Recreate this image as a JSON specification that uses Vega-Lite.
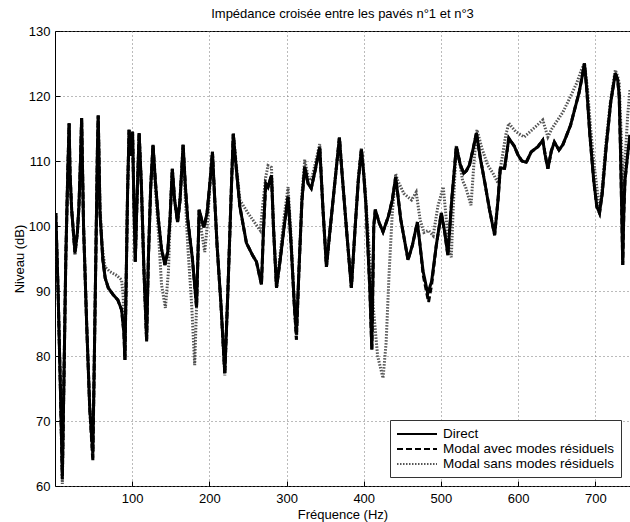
{
  "$schema": "https://vega.github.io/schema/vega-lite/v6.json",
  "width": 575,
  "height": 455,
  "autosize": {"type": "none"},
  "padding": {"left": 55, "top": 31, "right": 0, "bottom": 36},
  "background": "white",
  "title": {"text": "Impédance croisée entre les pavés n°1 et n°3", "frame": "group", "anchor": "middle", "offset": 4, "fontSize": 13, "fontWeight": "normal", "font": "Liberation Sans", "color": "#000"},
  "config": {
    "font": "Liberation Sans",
    "view": {"stroke": "#000", "strokeWidth": 1},
    "axis": {"domain": false, "grid": true, "gridDash": [1, 3], "gridColor": "#777", "gridWidth": 1, "labelFont": "Liberation Sans", "labelFontSize": 13, "labelColor": "#000", "titleFont": "Liberation Sans", "titleFontSize": 13, "titleFontWeight": "normal", "titleColor": "#000", "tickColor": "#000", "tickSize": -5, "labelFlush": false},
    "legend": {"orient": "bottom-right", "offset": 9, "fillColor": "#ffffff", "strokeColor": "#333333", "padding": 6, "rowPadding": 0, "symbolType": "M-1,0H4.714", "symbolSize": 196, "symbolStrokeWidth": 2, "labelOffset": 31, "labelFont": "Liberation Sans", "labelFontSize": 13.5, "labelColor": "#000", "labelLimit": 300}
  },
  "datasets": {
    "direct": [
      {"f":1,"y":102},{"f":4,"y":90},{"f":7,"y":75},{"f":9.5,"y":61.5},{"f":11,"y":72},{"f":14,"y":95},{"f":16.5,"y":108},{"f":18.3,"y":115.8},{"f":19.5,"y":108},{"f":21.6,"y":102.5},{"f":25.9,"y":96},{"f":29,"y":99},{"f":31,"y":103},{"f":33,"y":110},{"f":34.5,"y":116.6},{"f":37,"y":100},{"f":41,"y":85},{"f":45,"y":72},{"f":49,"y":65},{"f":51,"y":80},{"f":53.5,"y":100},{"f":55,"y":112},{"f":56,"y":117},{"f":58.3,"y":102},{"f":62,"y":94.8},{"f":65,"y":92},{"f":69,"y":90.5},{"f":75.5,"y":89.4},{"f":81.5,"y":88.6},{"f":86.3,"y":87.1},{"f":89.3,"y":83.5},{"f":90.6,"y":79.4},{"f":92,"y":90},{"f":94,"y":105},{"f":96,"y":114.8},{"f":98,"y":110.8},{"f":100.5,"y":114.5},{"f":102,"y":105},{"f":104,"y":94.5},{"f":106,"y":103},{"f":109,"y":114.3},{"f":112,"y":106},{"f":115,"y":94},{"f":118.7,"y":82.5},{"f":121,"y":95},{"f":124,"y":106},{"f":127,"y":112.5},{"f":130,"y":107},{"f":134,"y":101},{"f":138,"y":96.5},{"f":142.4,"y":94},{"f":146,"y":96},{"f":149,"y":101},{"f":152,"y":108.8},{"f":155,"y":104},{"f":158.8,"y":100.6},{"f":162,"y":104},{"f":166,"y":112.5},{"f":169,"y":106},{"f":172,"y":101},{"f":178,"y":95},{"f":183.4,"y":87.5},{"f":186.8,"y":102.5},{"f":190,"y":101},{"f":193,"y":99.8},{"f":197,"y":102},{"f":201,"y":107},{"f":204,"y":111.4},{"f":207,"y":104},{"f":210,"y":97},{"f":215,"y":88},{"f":220,"y":77.4},{"f":224,"y":90},{"f":228,"y":104},{"f":231,"y":114.2},{"f":234,"y":110},{"f":239.5,"y":103},{"f":248,"y":97.4},{"f":256,"y":95.5},{"f":261,"y":94.5},{"f":267.5,"y":91},{"f":270,"y":99},{"f":273,"y":106.6},{"f":276,"y":106},{"f":280.5,"y":107.8},{"f":283,"y":100},{"f":287,"y":90.5},{"f":292,"y":95},{"f":297,"y":100},{"f":302,"y":104.5},{"f":306,"y":97},{"f":310,"y":88},{"f":312.8,"y":83.5},{"f":316,"y":93},{"f":320,"y":104},{"f":323.6,"y":109.1},{"f":328,"y":106.5},{"f":332,"y":105.8},{"f":337,"y":108.5},{"f":343,"y":112.1},{"f":347,"y":103},{"f":351.7,"y":93.7},{"f":356,"y":99},{"f":362,"y":106},{"f":368.5,"y":113.6},{"f":372,"y":108},{"f":378,"y":99},{"f":384,"y":90.5},{"f":389,"y":100},{"f":393,"y":107},{"f":397,"y":111.8},{"f":400,"y":108},{"f":403,"y":103},{"f":408,"y":90},{"f":410.5,"y":81},{"f":413,"y":100},{"f":415,"y":102.5},{"f":420,"y":100.5},{"f":425,"y":99.1},{"f":432,"y":101.5},{"f":437,"y":104},{"f":441.4,"y":107.5},{"f":444,"y":105},{"f":448,"y":101},{"f":457.4,"y":94.8},{"f":463,"y":97},{"f":469.5,"y":100.6},{"f":473,"y":97},{"f":477,"y":93},{"f":483,"y":89.6},{"f":488,"y":91.5},{"f":494,"y":97},{"f":500.5,"y":102},{"f":505,"y":99},{"f":509,"y":95.5},{"f":514,"y":104},{"f":520,"y":112.2},{"f":525,"y":109.5},{"f":529.5,"y":108.1},{"f":533,"y":108.5},{"f":537,"y":109.4},{"f":542,"y":112},{"f":546,"y":114.3},{"f":551,"y":110.5},{"f":557,"y":106.6},{"f":563,"y":102.5},{"f":569.6,"y":98.6},{"f":574,"y":104},{"f":577,"y":108.9},{"f":582.5,"y":108.9},{"f":588,"y":113.5},{"f":595,"y":112.3},{"f":600,"y":110.9},{"f":605,"y":110},{"f":610.6,"y":109.8},{"f":617,"y":111.4},{"f":625.7,"y":112.2},{"f":632,"y":113.2},{"f":635,"y":111},{"f":638.6,"y":108.8},{"f":643,"y":111.5},{"f":647,"y":112.9},{"f":653,"y":111.7},{"f":658,"y":112.5},{"f":662,"y":113.7},{"f":668,"y":115.5},{"f":673,"y":117.8},{"f":679,"y":120.5},{"f":683,"y":123},{"f":686,"y":125},{"f":689,"y":121},{"f":693,"y":114},{"f":698,"y":107},{"f":702,"y":103},{"f":705.5,"y":102},{"f":709,"y":105},{"f":714,"y":112},{"f":720,"y":119},{"f":726,"y":123.5},{"f":729,"y":122.5},{"f":731,"y":120},{"f":733,"y":110},{"f":735.6,"y":94},{"f":737,"y":102},{"f":738.5,"y":107},{"f":742,"y":111},{"f":745,"y":114}
    ],
    "avec": [
      {"f":1,"y":102},{"f":4,"y":90},{"f":7,"y":75},{"f":9.5,"y":61},{"f":11,"y":72},{"f":14,"y":95},{"f":16.5,"y":108},{"f":18.3,"y":115.8},{"f":19.5,"y":108},{"f":21.6,"y":102.5},{"f":25.9,"y":95.8},{"f":29,"y":99},{"f":31,"y":103},{"f":33,"y":110},{"f":34.5,"y":116.6},{"f":37,"y":100},{"f":41,"y":85},{"f":45,"y":72},{"f":49,"y":63.8},{"f":51,"y":80},{"f":53.5,"y":100},{"f":55,"y":112},{"f":56,"y":117},{"f":58.3,"y":102},{"f":62,"y":94.8},{"f":65,"y":92},{"f":69,"y":90.5},{"f":75.5,"y":89.4},{"f":81.5,"y":88.6},{"f":86.3,"y":87.1},{"f":89.3,"y":83.5},{"f":90.6,"y":79.4},{"f":92,"y":90},{"f":94,"y":105},{"f":96,"y":114.8},{"f":98,"y":110.8},{"f":100.5,"y":114.5},{"f":102,"y":105},{"f":104,"y":94.5},{"f":106,"y":103},{"f":109,"y":114.3},{"f":112,"y":106},{"f":115,"y":94},{"f":118.7,"y":82.3},{"f":121,"y":95},{"f":124,"y":106},{"f":127,"y":112.5},{"f":130,"y":107},{"f":134,"y":101},{"f":138,"y":96.5},{"f":142.4,"y":94},{"f":146,"y":96},{"f":149,"y":101},{"f":152,"y":108.8},{"f":155,"y":104},{"f":158.8,"y":100.6},{"f":162,"y":104},{"f":166,"y":112.5},{"f":169,"y":106},{"f":172,"y":101},{"f":178,"y":95},{"f":183.4,"y":87.5},{"f":186.8,"y":102.5},{"f":190,"y":101},{"f":193,"y":99.8},{"f":197,"y":102},{"f":201,"y":107},{"f":204,"y":111.4},{"f":207,"y":104},{"f":210,"y":97},{"f":215,"y":88},{"f":220,"y":77.2},{"f":224,"y":90},{"f":228,"y":104},{"f":231,"y":114.2},{"f":234,"y":110},{"f":239.5,"y":103},{"f":248,"y":97.4},{"f":256,"y":95.5},{"f":261,"y":94.5},{"f":267.5,"y":91},{"f":270,"y":99},{"f":273,"y":106.6},{"f":276,"y":106},{"f":280.5,"y":107.8},{"f":283,"y":100},{"f":287,"y":90.5},{"f":292,"y":95},{"f":297,"y":100},{"f":302,"y":104.5},{"f":306,"y":97},{"f":310,"y":88},{"f":312.8,"y":82.5},{"f":316,"y":93},{"f":320,"y":104},{"f":323.6,"y":109.1},{"f":328,"y":106.5},{"f":332,"y":105.8},{"f":337,"y":108.5},{"f":343,"y":112.1},{"f":347,"y":103},{"f":351.7,"y":93.7},{"f":356,"y":99},{"f":362,"y":106},{"f":368.5,"y":113.6},{"f":372,"y":108},{"f":378,"y":99},{"f":384,"y":90.5},{"f":389,"y":100},{"f":393,"y":107},{"f":397,"y":111.8},{"f":400,"y":108},{"f":403,"y":103},{"f":408,"y":90},{"f":410.5,"y":81},{"f":413,"y":100},{"f":415,"y":102.5},{"f":420,"y":100.5},{"f":425,"y":99.1},{"f":432,"y":101.5},{"f":437,"y":104},{"f":441.4,"y":107.5},{"f":444,"y":105},{"f":448,"y":101},{"f":457.4,"y":94.8},{"f":463,"y":97},{"f":469.5,"y":100.6},{"f":473,"y":97},{"f":477,"y":92.5},{"f":484,"y":88.3},{"f":488,"y":91},{"f":494,"y":97},{"f":500.5,"y":102},{"f":505,"y":99},{"f":509,"y":95.5},{"f":514,"y":104},{"f":520,"y":112.2},{"f":525,"y":109.5},{"f":529.5,"y":108.1},{"f":533,"y":108.5},{"f":537,"y":109.4},{"f":542,"y":112},{"f":546,"y":114.3},{"f":551,"y":110.5},{"f":557,"y":106.6},{"f":563,"y":102.5},{"f":569.6,"y":98.6},{"f":574,"y":104},{"f":577,"y":108.9},{"f":582.5,"y":108.9},{"f":588,"y":113.5},{"f":595,"y":112.3},{"f":600,"y":110.9},{"f":605,"y":110},{"f":610.6,"y":109.8},{"f":617,"y":111.4},{"f":625.7,"y":112.2},{"f":632,"y":113.2},{"f":635,"y":111},{"f":638.6,"y":108.8},{"f":643,"y":111.5},{"f":647,"y":112.9},{"f":653,"y":111.7},{"f":658,"y":112.5},{"f":662,"y":113.7},{"f":668,"y":115.5},{"f":673,"y":117.8},{"f":679,"y":120.5},{"f":683,"y":123},{"f":686,"y":125},{"f":689,"y":121},{"f":693,"y":114},{"f":698,"y":107},{"f":702,"y":103},{"f":705.5,"y":102},{"f":709,"y":105},{"f":714,"y":112},{"f":720,"y":119},{"f":726,"y":123.5},{"f":729,"y":122.5},{"f":731,"y":120},{"f":733,"y":110},{"f":735.6,"y":94},{"f":737,"y":102},{"f":738.5,"y":107},{"f":742,"y":111},{"f":745,"y":114}
    ],
    "sans": [
      {"f":1,"y":102},{"f":4,"y":90},{"f":7,"y":75},{"f":9.5,"y":60.3},{"f":11,"y":72},{"f":14,"y":95},{"f":16.5,"y":108},{"f":18.3,"y":115.8},{"f":19.5,"y":108},{"f":21.6,"y":102.5},{"f":25.9,"y":95.5},{"f":29,"y":99},{"f":31,"y":103},{"f":33,"y":110},{"f":34.5,"y":116.6},{"f":37,"y":100},{"f":41,"y":85},{"f":45,"y":72},{"f":49,"y":64.3},{"f":51,"y":80},{"f":53.5,"y":100},{"f":55,"y":112},{"f":56,"y":117},{"f":58.3,"y":103},{"f":61,"y":97},{"f":64.7,"y":93.7},{"f":71,"y":93},{"f":79.9,"y":92.4},{"f":86.3,"y":91.7},{"f":88.4,"y":89},{"f":90.6,"y":80},{"f":92,"y":90},{"f":94,"y":105},{"f":96,"y":114.8},{"f":98,"y":110.8},{"f":100.5,"y":114.5},{"f":102,"y":105},{"f":104,"y":94.5},{"f":106,"y":103},{"f":109,"y":114.3},{"f":112,"y":106},{"f":115,"y":94},{"f":118.7,"y":82.2},{"f":121,"y":95},{"f":124,"y":106},{"f":127,"y":112.5},{"f":130,"y":106},{"f":134,"y":99},{"f":138,"y":91},{"f":143,"y":87.4},{"f":147,"y":93},{"f":150,"y":104},{"f":152,"y":108.8},{"f":155,"y":104},{"f":158.8,"y":100.6},{"f":162,"y":104},{"f":166,"y":112.5},{"f":169,"y":104},{"f":172,"y":97},{"f":177,"y":88},{"f":181,"y":78.6},{"f":184,"y":90},{"f":186.8,"y":102.5},{"f":190,"y":99},{"f":194,"y":96},{"f":198,"y":101},{"f":201,"y":107},{"f":204,"y":111.4},{"f":207,"y":104},{"f":210,"y":97},{"f":215,"y":88},{"f":220,"y":77},{"f":224,"y":90},{"f":228,"y":104},{"f":231,"y":114.2},{"f":234,"y":110.5},{"f":239.5,"y":104},{"f":250,"y":102},{"f":260,"y":100.3},{"f":266,"y":99.3},{"f":269,"y":103},{"f":273,"y":107.5},{"f":276,"y":109.3},{"f":280.5,"y":109},{"f":283,"y":100},{"f":287,"y":90.5},{"f":292,"y":96},{"f":297,"y":101.5},{"f":302,"y":106},{"f":306,"y":98},{"f":310,"y":88},{"f":312.8,"y":82.5},{"f":316,"y":93},{"f":320,"y":105},{"f":323.6,"y":110.2},{"f":328,"y":107.5},{"f":332,"y":107},{"f":337,"y":109.5},{"f":343,"y":112.6},{"f":347,"y":103},{"f":351.7,"y":93.7},{"f":356,"y":99},{"f":362,"y":106},{"f":368.5,"y":113.6},{"f":372,"y":108},{"f":378,"y":99},{"f":384,"y":90.5},{"f":389,"y":100},{"f":393,"y":107.5},{"f":397,"y":112},{"f":401,"y":107},{"f":405,"y":100},{"f":412,"y":88},{"f":418,"y":80},{"f":425,"y":76.6},{"f":429,"y":82},{"f":433,"y":93},{"f":437,"y":102},{"f":441.4,"y":108},{"f":444,"y":107},{"f":448,"y":106},{"f":452,"y":105},{"f":457,"y":104.5},{"f":462,"y":104},{"f":468,"y":105.2},{"f":473,"y":101},{"f":478,"y":99},{"f":484,"y":99.3},{"f":490,"y":98.5},{"f":496,"y":103},{"f":503,"y":106},{"f":507,"y":101},{"f":511,"y":96},{"f":513.5,"y":95.2},{"f":516,"y":103},{"f":520,"y":112.4},{"f":524,"y":110},{"f":528,"y":107},{"f":532,"y":106},{"f":539,"y":103.2},{"f":543,"y":110},{"f":546.7,"y":114.8},{"f":553,"y":112},{"f":560.5,"y":109.4},{"f":568,"y":108},{"f":574,"y":106.6},{"f":580,"y":111},{"f":584,"y":114},{"f":588,"y":115.8},{"f":597,"y":114.5},{"f":608,"y":113.7},{"f":620,"y":115},{"f":632,"y":116.3},{"f":638.6,"y":113.7},{"f":644,"y":115},{"f":649.5,"y":116},{"f":658,"y":117.5},{"f":667,"y":119.7},{"f":676,"y":122},{"f":682,"y":124},{"f":686,"y":125},{"f":690,"y":121},{"f":694,"y":115},{"f":698,"y":110},{"f":701,"y":107},{"f":705.5,"y":102.5},{"f":709,"y":106},{"f":714,"y":113},{"f":720,"y":119.5},{"f":726,"y":124},{"f":729,"y":123},{"f":731,"y":122},{"f":734,"y":113},{"f":736.5,"y":105},{"f":739,"y":111},{"f":742,"y":117},{"f":745,"y":121}
    ]
  },
  "encoding": {
    "x": {"field": "f", "type": "quantitative", "scale": {"domain": [0, 745], "nice": false, "zero": false}, "axis": {"values": [100, 200, 300, 400, 500, 600, 700], "title": "Fréquence (Hz)", "labelPadding": 11, "titlePadding": 3}},
    "y": {"field": "y", "type": "quantitative", "scale": {"domain": [60, 130], "nice": false, "zero": false}, "axis": {"values": [60, 70, 80, 90, 100, 110, 120, 130], "title": "Niveau (dB)", "labelPadding": 10, "titlePadding": 2}}
  },
  "layer": [
    {
      "data": {"name": "sans"},
      "mark": {"type": "line", "strokeWidth": 3, "clip": true},
      "encoding": {
        "color": {"datum": "Modal sans modes résiduels", "scale": {"domain": ["Direct", "Modal avec modes résiduels", "Modal sans modes résiduels"], "range": ["#000000", "#000000", "#555555"]}, "legend": {"title": null, "orient": "bottom-right"}},
        "strokeDash": {"datum": "Modal sans modes résiduels", "scale": {"domain": ["Direct", "Modal avec modes résiduels", "Modal sans modes résiduels"], "range": [[1, 0], [6, 3], [1.5, 1.5]]}, "legend": {"title": null, "orient": "bottom-right"}}
      }
    },
    {
      "data": {"name": "avec"},
      "mark": {"type": "line", "strokeWidth": 3, "clip": true},
      "encoding": {
        "color": {"datum": "Modal avec modes résiduels"},
        "strokeDash": {"datum": "Modal avec modes résiduels"}
      }
    },
    {
      "data": {"name": "direct"},
      "mark": {"type": "line", "strokeWidth": 3, "clip": true},
      "encoding": {
        "color": {"datum": "Direct"},
        "strokeDash": {"datum": "Direct"}
      }
    }
  ],
  "resolve": {"legend": {"color": "shared", "strokeDash": "shared"}}
}
